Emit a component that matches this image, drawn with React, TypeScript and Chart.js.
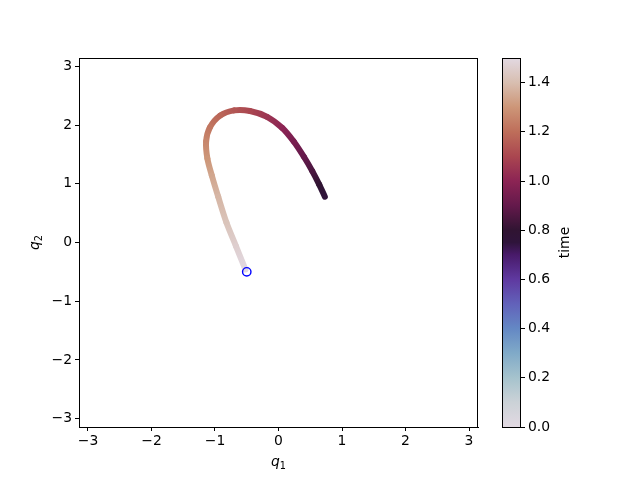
import React, { useEffect, useRef } from "react";
import { Chart, registerables } from "chart.js";

Chart.register(...registerables);

// ---- data ----
const TIMES = [0.75, 0.8, 0.85, 0.9, 0.95, 1.0, 1.05, 1.1, 1.14, 1.18, 1.22, 1.26, 1.3, 1.34, 1.38, 1.42, 1.46, 1.5];
const Q1 = [0.73, 0.64, 0.53, 0.4, 0.24, 0.06, -0.18, -0.45, -0.7, -0.92, -1.08, -1.14, -1.12, -1.05, -0.95, -0.82, -0.67, -0.52];
const Q2 = [0.78, 0.99, 1.22, 1.46, 1.72, 1.95, 2.14, 2.24, 2.25, 2.16, 1.96, 1.72, 1.43, 1.14, 0.78, 0.34, -0.06, -0.46];
const START_Q1 = [-0.5];
const START_Q2 = [-0.5];
const X_TICKS = [-3, -2, -1, 0, 1, 2, 3];
const Y_TICKS = [-3, -2, -1, 0, 1, 2, 3];
const CBAR_TICKS = [0, 0.2, 0.4, 0.6, 0.8, 1.0, 1.2, 1.4];
const T_MIN = 0;
const T_MAX = 1.5;

// twilight-like colormap stops (fraction, rgb)
const TWILIGHT: [number, number[]][] = [
  [0.0, [226, 217, 226]],
  [0.067, [203, 210, 215]],
  [0.133, [166, 195, 205]],
  [0.2, [128, 170, 200]],
  [0.267, [100, 136, 196]],
  [0.333, [98, 98, 186]],
  [0.4, [95, 57, 160]],
  [0.467, [72, 26, 105]],
  [0.5, [47, 20, 59]],
  [0.533, [48, 20, 50]],
  [0.6, [100, 25, 75]],
  [0.667, [140, 36, 84]],
  [0.733, [170, 70, 80]],
  [0.8, [190, 110, 90]],
  [0.867, [205, 150, 120]],
  [0.933, [216, 190, 176]],
  [1.0, [226, 217, 226]],
];

const FONT = "'DejaVu Sans', sans-serif";
const FS = 13.9;

function twilight(f: number): string {
  const x = Math.min(1, Math.max(0, f));
  for (let i = 0; i < TWILIGHT.length - 1; i++) {
    const [a, ca] = TWILIGHT[i];
    const [b, cb] = TWILIGHT[i + 1];
    if (x >= a && x <= b) {
      const u = (x - a) / (b - a);
      const c = ca.map((v, k) => Math.round(v + (cb[k] - v) * u));
      return `rgb(${c[0]},${c[1]},${c[2]})`;
    }
  }
  const c = TWILIGHT[TWILIGHT.length - 1][1];
  return `rgb(${c[0]},${c[1]},${c[2]})`;
}
const timeColor = (t: number) => twilight((t - T_MIN) / (T_MAX - T_MIN));

const fmtInt = (v: number) => (v < 0 ? "\u2212" + Math.abs(v) : String(v));

function drawMathLabel(ctx: CanvasRenderingContext2D, base: string, sub: string, cx: number, baseline: number) {
  ctx.save();
  ctx.fillStyle = "#000";
  ctx.textBaseline = "alphabetic";
  ctx.textAlign = "left";
  ctx.font = `italic ${FS}px ${FONT}`;
  const w1 = ctx.measureText(base).width;
  ctx.font = `${FS * 0.7}px ${FONT}`;
  const w2 = ctx.measureText(sub).width;
  const x0 = cx - (w1 + w2) / 2;
  ctx.font = `italic ${FS}px ${FONT}`;
  ctx.fillText(base, x0, baseline);
  ctx.font = `${FS * 0.7}px ${FONT}`;
  ctx.fillText(sub, x0 + w1, baseline + 2.5);
  ctx.restore();
}

export default function App() {
  const mainRef = useRef<HTMLCanvasElement>(null);
  const cbarRef = useRef<HTMLCanvasElement>(null);

  useEffect(() => {
    const canvas = mainRef.current!;
    const ctx2d = canvas.getContext("2d")!;

    const framePlugin = {
      id: "frameAndLabels",
      afterDatasetsDraw(chart: any) {
        const { ctx, chartArea: a } = chart;
        ctx.save();
        ctx.strokeStyle = "#000";
        ctx.lineWidth = 1;
        ctx.strokeRect(Math.round(a.left) + 0.5, Math.round(a.top) + 0.5, Math.round(a.right - a.left) - 1, Math.round(a.bottom - a.top));
        ctx.restore();
      },
      afterDraw(chart: any) {
        const { ctx, chartArea: a } = chart;
        const cx = (a.left + a.right) / 2;
        drawMathLabel(ctx, "q", "1", cx, 466);
        ctx.save();
        ctx.translate(39, (a.top + a.bottom) / 2);
        ctx.rotate(-Math.PI / 2);
        drawMathLabel(ctx, "q", "2", 0, 0);
        ctx.restore();
      },
    };

    const linePoints = TIMES.map((_, i) => ({ x: Q1[i], y: Q2[i] }));

    const chart = new Chart(canvas, {
      type: "scatter",
      data: {
        datasets: [
          {
            data: linePoints,
            showLine: true,
            pointRadius: 0,
            borderWidth: 6,
            borderCapStyle: "round",
            borderJoinStyle: "round",
            tension: 0.3,
            borderColor: timeColor(1.1),
            segment: {
              borderColor: (c: any) => {
                const i0 = c.p0DataIndex;
                const i1 = c.p1DataIndex;
                const g = ctx2d.createLinearGradient(c.p0.x, c.p0.y, c.p1.x, c.p1.y);
                g.addColorStop(0, timeColor(TIMES[i0]));
                g.addColorStop(1, timeColor(TIMES[i1]));
                return g;
              },
            },
            order: 2,
          } as any,
          {
            data: START_Q1.map((v, i) => ({ x: v, y: START_Q2[i] })),
            pointRadius: 4.2,
            pointBorderWidth: 1.4,
            pointBorderColor: "#0000ff",
            pointBackgroundColor: "rgba(0,0,0,0)",
            order: 1,
          } as any,
        ],
      },
      options: {
        animation: false,
        responsive: false,
        maintainAspectRatio: false,
        devicePixelRatio: 1,
        layout: { padding: { left: 0, right: 162, top: 58, bottom: 0 } },
        plugins: { legend: { display: false }, tooltip: { enabled: false } },
        events: [],
        scales: {
          x: {
            type: "linear",
            min: -Math.PI,
            max: Math.PI,
            afterBuildTicks: (s: any) => {
              s.ticks = X_TICKS.map((v) => ({ value: v }));
            },
            afterFit: (s: any) => {
              s.height = 53;
            },
            grid: { drawOnChartArea: false, tickLength: 4, tickColor: "#000", tickWidth: 1 },
            border: { display: true, color: "#000", width: 1 },
            ticks: {
              color: "#000",
              font: { family: FONT, size: FS },
              padding: 2,
              maxRotation: 0,
              autoSkip: false,
              callback: (v: any) => fmtInt(Number(v)),
            },
          },
          y: {
            type: "linear",
            min: -Math.PI,
            max: Math.PI,
            afterBuildTicks: (s: any) => {
              s.ticks = Y_TICKS.map((v) => ({ value: v }));
            },
            afterFit: (s: any) => {
              s.width = 79;
            },
            grid: { drawOnChartArea: false, tickLength: 4, tickColor: "#000", tickWidth: 1 },
            border: { display: true, color: "#000", width: 1 },
            ticks: {
              color: "#000",
              font: { family: FONT, size: FS },
              padding: 3,
              autoSkip: false,
              callback: (v: any) => fmtInt(Number(v)),
            },
          },
        },
      },
      plugins: [framePlugin],
    } as any);

    const cbarPlugin = {
      id: "cbar",
      beforeDatasetsDraw(c: any) {
        const { ctx, chartArea: a } = c;
        const g = ctx.createLinearGradient(0, a.bottom, 0, a.top);
        TWILIGHT.forEach(([f, col]) => g.addColorStop(f, `rgb(${col[0]},${col[1]},${col[2]})`));
        ctx.save();
        ctx.fillStyle = g;
        ctx.fillRect(a.left, a.top, a.right - a.left, a.bottom - a.top);
        ctx.strokeStyle = "#000";
        ctx.lineWidth = 1;
        ctx.strokeRect(Math.round(a.left) + 0.5, Math.round(a.top) + 0.5, Math.round(a.right - a.left) - 1, Math.round(a.bottom - a.top));
        ctx.restore();
      },
      afterDraw(c: any) {
        const { ctx, chartArea: a } = c;
        ctx.save();
        ctx.translate(569, (a.top + a.bottom) / 2);
        ctx.rotate(-Math.PI / 2);
        ctx.fillStyle = "#000";
        ctx.font = `${FS}px ${FONT}`;
        ctx.textAlign = "center";
        ctx.textBaseline = "alphabetic";
        ctx.fillText("time", 0, 0);
        ctx.restore();
      },
    };

    const cbar = new Chart(cbarRef.current!, {
      type: "scatter",
      data: { datasets: [{ data: [] }] },
      options: {
        animation: false,
        responsive: false,
        maintainAspectRatio: false,
        devicePixelRatio: 1,
        events: [],
        layout: { padding: { left: 502, right: 0, top: 58, bottom: 53 } },
        plugins: { legend: { display: false }, tooltip: { enabled: false } },
        scales: {
          x: { display: false, min: 0, max: 1 },
          y: {
            type: "linear",
            position: "right",
            min: T_MIN,
            max: T_MAX,
            afterBuildTicks: (s: any) => {
              s.ticks = CBAR_TICKS.map((v) => ({ value: v }));
            },
            afterFit: (s: any) => {
              s.width = 119;
            },
            grid: { drawOnChartArea: false, tickLength: 4, tickColor: "#000", tickWidth: 1 },
            border: { display: false },
            ticks: {
              color: "#000",
              font: { family: FONT, size: FS },
              padding: 3,
              autoSkip: false,
              callback: (v: any) => Number(v).toFixed(1),
            },
          },
        },
      },
      plugins: [cbarPlugin],
    } as any);

    return () => {
      chart.destroy();
      cbar.destroy();
    };
  }, []);

  return (
    <div style={{ position: "fixed", left: 0, top: 0, width: 640, height: 480, background: "#fff" }}>
      <canvas ref={mainRef} width={640} height={480} style={{ position: "absolute", left: 0, top: 0, width: 640, height: 480 }} />
      <canvas ref={cbarRef} width={640} height={480} style={{ position: "absolute", left: 0, top: 0, width: 640, height: 480 }} />
    </div>
  );
}
